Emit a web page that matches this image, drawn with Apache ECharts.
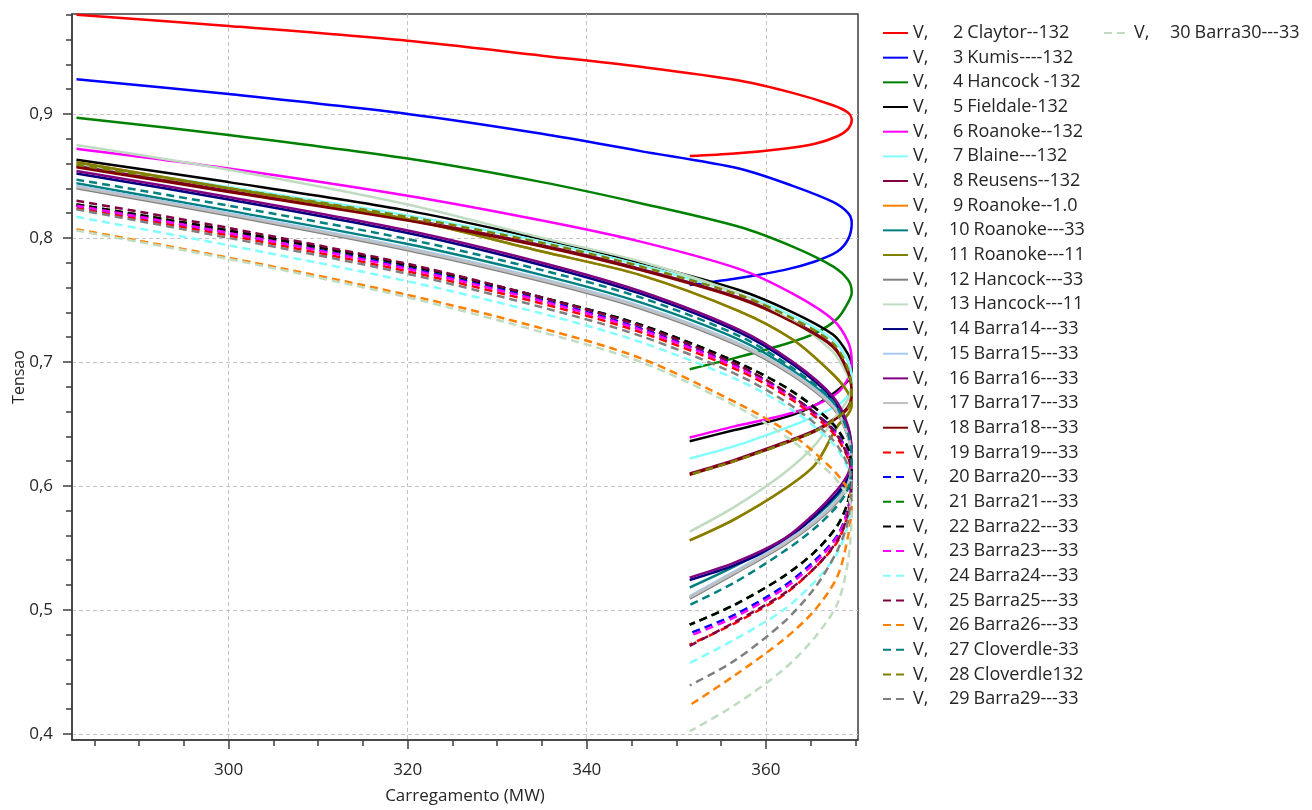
<!DOCTYPE html>
<html>
<head>
<meta charset="utf-8">
<title>Curvas PV</title>
<script src="https://cdn.jsdelivr.net/npm/echarts@6/dist/echarts.min.js"></script>
<style>
  html, body { margin: 0; padding: 0; background: #fff; }
  #chart { width: 1312px; height: 810px; }
</style>
</head>
<body>
<div id="chart"></div>
<script>
// carregamento (MW) ao longo da curva: ramo superior, ponto de maximo, ramo inferior
const loadSteps = [283, 300, 320, 335, 346, 357, 363, 367.5, 369.2, 369.6, 369.2, 368, 365.5, 362, 356.5, 351.5]

// barras
const busNumbers = [2, 3, 4, 5, 6, 7, 8, 9, 10, 11, 12, 13, 14, 15, 16, 17, 18, 19, 20, 21, 22, 23, 24, 25, 26, 27, 28, 29, 30]
const busNames = [
  'Claytor--132', 'Kumis----132', 'Hancock -132', 'Fieldale-132', 'Roanoke--132', 'Blaine---132',
  'Reusens--132', 'Roanoke--1.0', 'Roanoke---33', 'Roanoke---11', 'Hancock---33', 'Hancock---11',
  'Barra14---33', 'Barra15---33', 'Barra16---33', 'Barra17---33', 'Barra18---33', 'Barra19---33',
  'Barra20---33', 'Barra21---33', 'Barra22---33', 'Barra23---33', 'Barra24---33', 'Barra25---33',
  'Barra26---33', 'Cloverdle-33', 'Cloverdle132', 'Barra29---33', 'Barra30---33'
]

// marcas dos eixos
const xTicks = [300, 320, 340, 360]
const xMinorTicks = [285, 290, 295, 305, 310, 315, 325, 330, 335, 345, 350, 355, 365, 370]
const yTicks = [0.4, 0.5, 0.6, 0.7, 0.8, 0.9]
const yMinorTicks = [0.42, 0.44, 0.46, 0.48, 0.52, 0.54, 0.56, 0.58, 0.62, 0.64, 0.66, 0.68,
  0.72, 0.74, 0.76, 0.78, 0.82, 0.84, 0.86, 0.88, 0.92, 0.94, 0.96, 0.98]

// tensao (pu) em cada passo de carregamento
const vBus2 = [0.980, 0.971, 0.959, 0.947, 0.938, 0.927, 0.917, 0.907, 0.901, 0.895, 0.888, 0.882, 0.876, 0.872, 0.868, 0.866]
const vBus3 = [0.928, 0.916, 0.900, 0.884, 0.870, 0.856, 0.842, 0.829, 0.820, 0.812, 0.799, 0.789, 0.781, 0.774, 0.767, 0.762]
const vBus4 = [0.897, 0.883, 0.864, 0.845, 0.828, 0.809, 0.793, 0.777, 0.766, 0.756, 0.748, 0.735, 0.723, 0.714, 0.703, 0.694]
const vBus5 = [0.863, 0.845, 0.822, 0.799, 0.780, 0.758, 0.740, 0.722, 0.706, 0.696, 0.685, 0.677, 0.665, 0.655, 0.645, 0.636]
const vBus6 = [0.872, 0.856, 0.834, 0.814, 0.797, 0.775, 0.755, 0.734, 0.716, 0.700, 0.687, 0.675, 0.665, 0.657, 0.648, 0.639]
const vBus7 = [0.860, 0.841, 0.818, 0.797, 0.778, 0.755, 0.737, 0.718, 0.700, 0.684, 0.673, 0.665, 0.656, 0.646, 0.632, 0.622]
const vBus8 = [0.858, 0.838, 0.815, 0.794, 0.775, 0.752, 0.733, 0.713, 0.692, 0.675, 0.664, 0.656, 0.645, 0.635, 0.621, 0.610]
const vBus9 = [0.861, 0.840, 0.815, 0.789, 0.770, 0.741, 0.718, 0.690, 0.675, 0.665, 0.658, 0.648, 0.617, 0.597, 0.573, 0.556]
const vBus10 = [0.844, 0.822, 0.795, 0.770, 0.748, 0.718, 0.693, 0.667, 0.643, 0.622, 0.605, 0.592, 0.575, 0.557, 0.535, 0.518]
const vBus11 = [0.861, 0.840, 0.815, 0.789, 0.770, 0.741, 0.718, 0.690, 0.675, 0.665, 0.658, 0.648, 0.617, 0.597, 0.573, 0.556]
const vBus12 = [0.840, 0.818, 0.790, 0.765, 0.743, 0.713, 0.689, 0.663, 0.639, 0.617, 0.600, 0.587, 0.570, 0.552, 0.529, 0.509]
const vBus13 = [0.875, 0.855, 0.827, 0.800, 0.781, 0.755, 0.733, 0.708, 0.688, 0.680, 0.670, 0.658, 0.633, 0.610, 0.583, 0.563]
const vBus14 = [0.852, 0.831, 0.804, 0.778, 0.755, 0.724, 0.698, 0.670, 0.646, 0.623, 0.607, 0.594, 0.576, 0.555, 0.536, 0.524]
const vBus15 = [0.842, 0.820, 0.792, 0.767, 0.745, 0.715, 0.691, 0.665, 0.641, 0.619, 0.602, 0.589, 0.572, 0.554, 0.531, 0.511]
const vBus16 = [0.854, 0.833, 0.806, 0.780, 0.757, 0.726, 0.700, 0.672, 0.648, 0.625, 0.610, 0.597, 0.578, 0.557, 0.538, 0.526]
const vBus17 = [0.841, 0.819, 0.791, 0.766, 0.744, 0.714, 0.690, 0.664, 0.640, 0.618, 0.601, 0.588, 0.571, 0.553, 0.530, 0.510]
const vBus18 = [0.857, 0.837, 0.814, 0.793, 0.774, 0.751, 0.732, 0.712, 0.691, 0.674, 0.663, 0.655, 0.644, 0.634, 0.620, 0.609]
const vBus19 = [0.824, 0.802, 0.773, 0.747, 0.724, 0.693, 0.669, 0.643, 0.622, 0.606, 0.578, 0.555, 0.534, 0.512, 0.489, 0.472]
const vBus20 = [0.826, 0.804, 0.776, 0.750, 0.727, 0.696, 0.672, 0.646, 0.626, 0.609, 0.582, 0.560, 0.540, 0.519, 0.496, 0.481]
const vBus21 = [0.827, 0.806, 0.778, 0.752, 0.730, 0.699, 0.676, 0.650, 0.630, 0.612, 0.588, 0.568, 0.547, 0.527, 0.504, 0.488]
const vBus22 = [0.827, 0.806, 0.778, 0.752, 0.730, 0.699, 0.676, 0.650, 0.630, 0.612, 0.588, 0.568, 0.547, 0.527, 0.504, 0.488]
const vBus23 = [0.826, 0.804, 0.775, 0.749, 0.726, 0.695, 0.671, 0.645, 0.625, 0.608, 0.581, 0.559, 0.538, 0.517, 0.494, 0.479]
const vBus24 = [0.817, 0.794, 0.765, 0.739, 0.716, 0.685, 0.661, 0.634, 0.614, 0.600, 0.570, 0.546, 0.523, 0.500, 0.476, 0.457]
const vBus25 = [0.830, 0.808, 0.779, 0.752, 0.729, 0.697, 0.672, 0.645, 0.623, 0.606, 0.578, 0.556, 0.534, 0.513, 0.490, 0.471]
const vBus26 = [0.807, 0.784, 0.754, 0.727, 0.703, 0.666, 0.641, 0.613, 0.597, 0.585, 0.560, 0.527, 0.500, 0.476, 0.447, 0.423]
const vBus27 = [0.847, 0.826, 0.799, 0.774, 0.752, 0.721, 0.695, 0.668, 0.642, 0.618, 0.598, 0.584, 0.566, 0.547, 0.522, 0.504]
const vBus28 = [0.859, 0.840, 0.817, 0.796, 0.777, 0.754, 0.735, 0.715, 0.694, 0.673, 0.663, 0.655, 0.644, 0.634, 0.620, 0.609]
const vBus29 = [0.823, 0.800, 0.771, 0.744, 0.721, 0.689, 0.664, 0.637, 0.616, 0.600, 0.572, 0.548, 0.518, 0.490, 0.459, 0.439]
const vBus30 = [0.806, 0.783, 0.752, 0.724, 0.700, 0.663, 0.636, 0.608, 0.591, 0.580, 0.540, 0.505, 0.478, 0.452, 0.423, 0.402]

const voltages = [vBus2, vBus3, vBus4, vBus5, vBus6, vBus7, vBus8, vBus9, vBus10, vBus11, vBus12, vBus13,
  vBus14, vBus15, vBus16, vBus17, vBus18, vBus19, vBus20, vBus21, vBus22, vBus23, vBus24, vBus25,
  vBus26, vBus27, vBus28, vBus29, vBus30]

// estilo de cada curva (cor, tracejado)
const lineColors = [
  '#ff0000', '#0000ff', '#008000', '#000000', '#ff00ff', '#80ffff', '#800040', '#ff8000',
  '#008080', '#808000', '#808080', '#c0dcc0', '#000080', '#a6caf0', '#800080', '#c0c0c0', '#800000',
  '#ff0000', '#0000ff', '#008000', '#000000', '#ff00ff', '#80ffff', '#800040', '#ff8000',
  '#008080', '#808000', '#808080', '#c0dcc0'
]
const firstDashedBus = 19

const FONT = 'Open Sans'
const TEXT_COLOR = '#262626'
const AXIS_COLOR = '#3c3c3c'

const seriesName = (i) => `V, ${busNumbers[i]} ${busNames[i]}`

const series = busNumbers.map((bus, i) => ({
  name: seriesName(i),
  type: 'line',
  symbol: 'none',
  smooth: 0.3,
  lineStyle: {
    color: lineColors[i],
    width: 2.5,
    type: bus >= firstDashedBus ? [8, 5] : 'solid'
  },
  itemStyle: { color: lineColors[i] },
  data: loadSteps.map((p, k) => [p, voltages[i][k]])
}))

// legenda: "V," + numero da barra alinhado a direita + nome
const legendToken = { fontFamily: FONT, fontSize: 18, color: TEXT_COLOR, lineHeight: 20 }
const legendRich = {
  v: { ...legendToken, width: 18 },
  n1: { ...legendToken, padding: [0, 0, 0, 22] },
  n2: { ...legendToken, padding: [0, 0, 0, 18] },
  t: { ...legendToken, padding: [0, 0, 0, 4] }
}

const legendFormatter = (name) => {
  const i = busNumbers.findIndex((b, k) => seriesName(k) === name)
  const numStyle = busNumbers[i] < 10 ? 'n1' : 'n2'
  return `{v|V,}{${numStyle}|${busNumbers[i]}}{t|${busNames[i]}}`
}

const baseLegend = {
  orient: 'vertical',
  top: 23,
  padding: 0,
  itemWidth: 25,
  itemHeight: 14,
  itemGap: 4.67,
  selectedMode: false,
  itemStyle: { opacity: 0 },
  formatter: legendFormatter,
  textStyle: { ...legendToken, rich: legendRich }
}

const allNames = busNumbers.map((b, i) => seriesName(i))

const axisLineStyle = { show: true, onZero: false, lineStyle: { color: AXIS_COLOR, width: 1.5 } }
const gridLineStyle = { show: true, lineStyle: { color: '#c4c4c4', width: 1, type: [4, 3] } }
const labelStyle = { fontFamily: FONT, fontSize: 17, color: TEXT_COLOR }
const tickStyle = { color: AXIS_COLOR, width: 1.5 }

const option = {
  backgroundColor: '#ffffff',
  animation: false,
  grid: {
    left: 72,
    right: 454,
    top: 14,
    bottom: 70,
    outerBoundsMode: 'none',
    show: true,
    borderColor: AXIS_COLOR,
    borderWidth: 1.5
  },
  legend: [
    { ...baseLegend, left: 882, data: allNames.slice(0, 28) },
    { ...baseLegend, left: 1103, data: allNames.slice(28) }
  ],
  xAxis: [
    {
      type: 'value',
      min: 282.5,
      max: 370.3,
      position: 'bottom',
      name: 'Carregamento (MW)',
      nameLocation: 'middle',
      nameGap: 48,
      nameMoveOverlap: false,
      nameTextStyle: { fontFamily: FONT, fontSize: 17, color: TEXT_COLOR },
      axisLine: axisLineStyle,
      axisTick: { show: true, inside: false, customValues: xTicks, length: 9, lineStyle: tickStyle },
      axisLabel: { customValues: xTicks, margin: 22, ...labelStyle },
      splitLine: gridLineStyle
    },
    {
      type: 'value',
      min: 282.5,
      max: 370.3,
      position: 'bottom',
      axisLine: { show: false, onZero: false },
      axisLabel: { show: false },
      splitLine: { show: false },
      axisTick: { show: true, inside: false, customValues: xMinorTicks, length: 6, lineStyle: tickStyle }
    }
  ],
  yAxis: [
    {
      type: 'value',
      min: 0.395,
      max: 0.9806,
      position: 'left',
      name: 'Tensao',
      nameLocation: 'middle',
      nameGap: 45,
      nameMoveOverlap: false,
      nameTextStyle: { fontFamily: FONT, fontSize: 16, color: TEXT_COLOR },
      axisLine: axisLineStyle,
      axisTick: { show: true, inside: false, customValues: yTicks, length: 9, lineStyle: tickStyle },
      axisLabel: {
        customValues: yTicks,
        margin: 19,
        formatter: (v) => v.toFixed(1).replace('.', ','),
        ...labelStyle
      },
      splitLine: gridLineStyle
    },
    {
      type: 'value',
      min: 0.395,
      max: 0.9806,
      position: 'left',
      axisLine: { show: false, onZero: false },
      axisLabel: { show: false },
      splitLine: { show: false },
      axisTick: { show: true, inside: false, customValues: yMinorTicks, length: 6, lineStyle: tickStyle }
    }
  ],
  series: series
}

const chart = echarts.init(document.getElementById('chart'))
chart.setOption(option)
</script>
</body>
</html>
